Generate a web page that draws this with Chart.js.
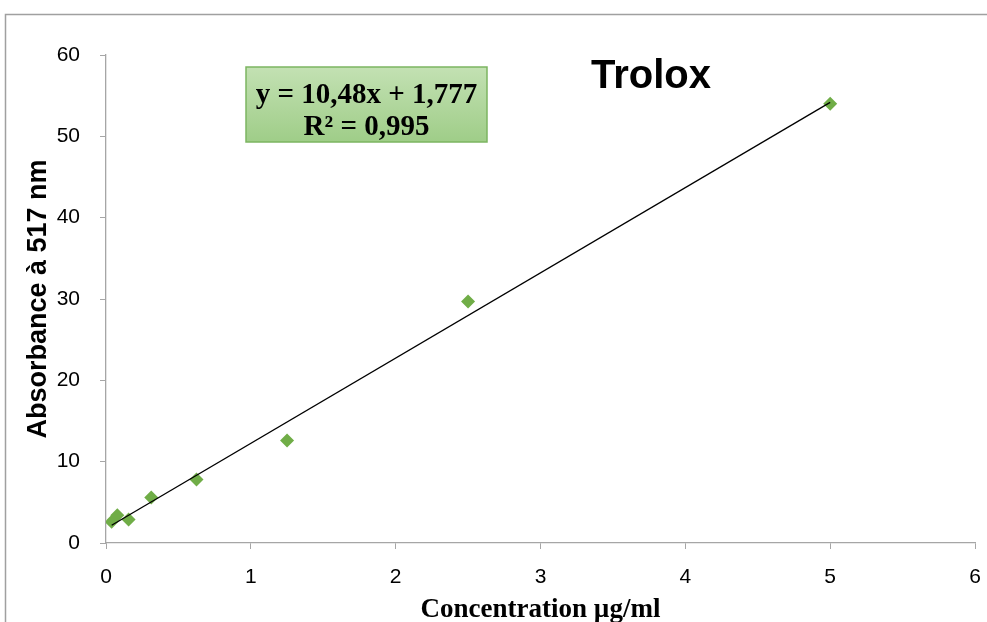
<!DOCTYPE html>
<html>
<head>
<meta charset="utf-8">
<script src="https://cdn.jsdelivr.net/npm/chart.js@4.4.1/dist/chart.umd.min.js"></script>
<style>
  html, body { margin: 0; padding: 0; background: #fff; }
  #wrap { width: 987px; height: 622px; position: relative; }
</style>
</head>
<body>
<div id="wrap"><canvas id="trolox-chart"></canvas></div>
<script>
// concentration (µg/ml) and absorbance values
const concentration = [0.039, 0.078, 0.156, 0.3125, 0.625, 1.25, 2.5, 5];
const absorbance = [2.6, 3.4, 2.9, 5.6, 7.8, 12.6, 29.7, 54.0];

// linear trend shown on the chart
const trendSlope = 10.48;
const trendIntercept = 1.777;
const trendX = [0.039, 5];

const xTicks = [0, 1, 2, 3, 4, 5, 6];
const yTicks = [0, 10, 20, 30, 40, 50, 60];
const equationLines = ["y = 10,48x + 1,777", "R² = 0,995"];

const axisGrey = "#a6a6a6";
const markerGreen = "#70ad47";

const canvas = document.querySelector("#trolox-chart");
const ctx = canvas.getContext("2d");

// frame, title and equation box drawn over the chart
const decorations = {
  id: "decorations",
  afterDraw(chart) {
    const c = chart.ctx;
    c.save();
    // outer frame
    c.strokeStyle = "#a0a0a0";
    c.lineWidth = 1.5;
    c.beginPath();
    c.moveTo(5.5, 622);
    c.lineTo(5.5, 14.5);
    c.lineTo(987, 14.5);
    c.stroke();

    // title
    c.fillStyle = "#000";
    c.font = "bold 40px 'Liberation Sans'";
    c.textAlign = "center";
    c.textBaseline = "alphabetic";
    c.fillText("Trolox", 651, 88);

    // equation box
    const bx = 246, by = 67, bw = 241, bh = 75;
    const grad = c.createLinearGradient(0, by, 0, by + bh);
    grad.addColorStop(0, "#c3e1b3");
    grad.addColorStop(1, "#9fcd88");
    c.fillStyle = grad;
    c.fillRect(bx, by, bw, bh);
    c.strokeStyle = "#7cb561";
    c.lineWidth = 1.5;
    c.strokeRect(bx, by, bw, bh);
    c.fillStyle = "#000";
    c.font = "bold 29px 'Liberation Serif'";
    c.fillText(equationLines[0], bx + bw / 2, 103);
    c.fillText(equationLines[1], bx + bw / 2, 135);
    c.restore();
  }
};

new Chart(ctx, {
  type: "scatter",
  data: {
    datasets: [
      {
        label: "Absorbance",
        data: concentration.map((x, i) => ({ x: x, y: absorbance[i] })),
        pointStyle: "rectRot",
        pointRadius: 7,
        backgroundColor: markerGreen,
        borderColor: markerGreen,
        borderWidth: 0,
        order: 1,
      },
      {
        label: "Linéaire",
        type: "line",
        data: trendX.map((x) => ({ x: x, y: trendSlope * x + trendIntercept })),
        borderColor: "#000",
        borderWidth: 1.3,
        pointRadius: 0,
        fill: false,
        order: 0,
      },
    ],
  },
  options: {
    responsive: true,
    maintainAspectRatio: false,
    animation: false,
    layout: { padding: { top: 55, right: 12, left: 22, bottom: 0 } },
    plugins: {
      legend: { display: false },
      tooltip: { enabled: false },
    },
    scales: {
      x: {
        type: "linear",
        min: 0,
        max: 6,
        afterBuildTicks: (scale) => { scale.ticks = xTicks.map((v) => ({ value: v })); },
        afterFit: (scale) => {
          scale.height = 79;
          scale.paddingLeft = 0;
          scale.paddingRight = 0;
        },
        grid: { drawOnChartArea: false, drawTicks: true, tickLength: 6, color: axisGrey },
        border: { color: axisGrey, width: 1.3 },
        ticks: {
          color: "#000",
          padding: 16,
          font: { family: "'Liberation Sans'", size: 21 },
        },
        title: {
          display: true,
          text: "Concentration µg/ml",
          color: "#000",
          padding: { top: 0, bottom: -4 },
          font: { family: "'Liberation Serif'", size: 27, weight: "bold" },
        },
      },
      y: {
        type: "linear",
        min: 0,
        max: 60,
        afterBuildTicks: (scale) => { scale.ticks = yTicks.map((v) => ({ value: v })); },
        afterFit: (scale) => {
          scale.width = 84;
          scale.paddingTop = 0;
          scale.paddingBottom = 0;
        },
        grid: { drawOnChartArea: false, drawTicks: true, tickLength: 6, color: axisGrey },
        border: { color: axisGrey, width: 1.3 },
        ticks: {
          color: "#000",
          padding: 20,
          font: { family: "'Liberation Sans'", size: 21 },
        },
        title: {
          display: true,
          text: "Absorbance à 517 nm",
          color: "#000",
          padding: { top: 0, bottom: 0 },
          font: { family: "'Liberation Sans'", size: 27, weight: "bold" },
        },
      },
    },
  },
  plugins: [decorations],
});
</script>
</body>
</html>
